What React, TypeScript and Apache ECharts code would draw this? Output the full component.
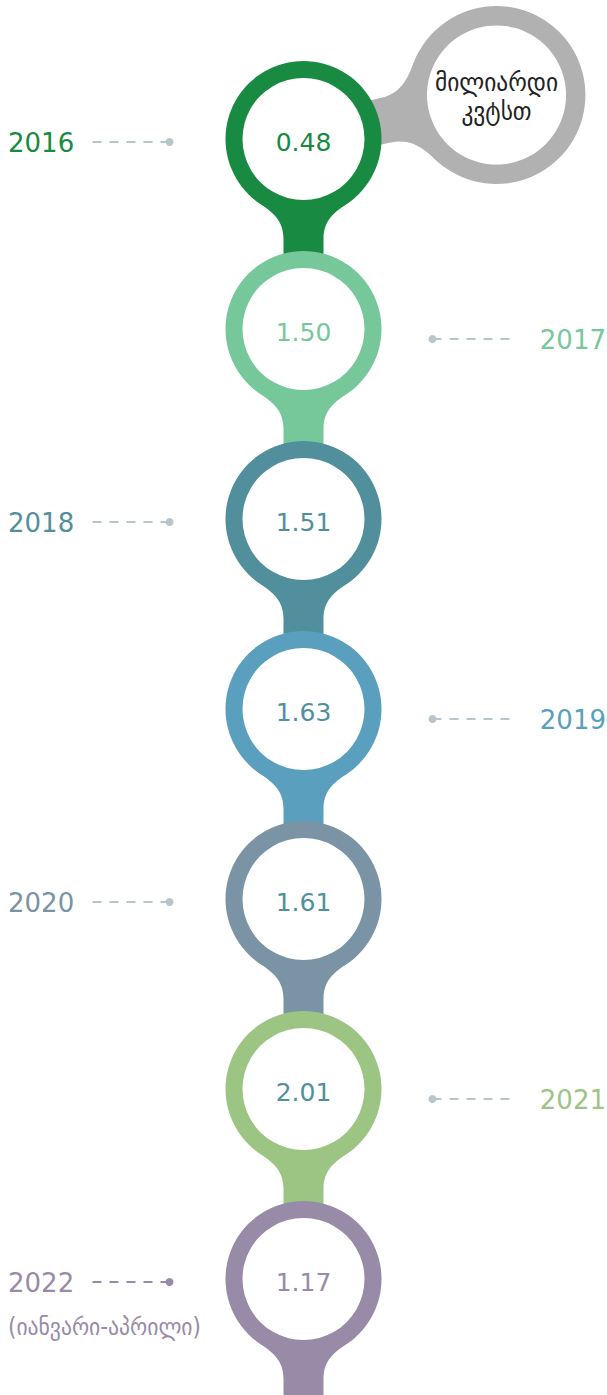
import React, { useEffect, useRef } from "react";
import * as echarts from "echarts";

const years = ["2016", "2017", "2018", "2019", "2020", "2021", "2022"];
const values = [0.48, 1.5, 1.51, 1.63, 1.61, 2.01, 1.17];
const ringColors = ["#188a41", "#76c89a", "#528f9c", "#5a9fbd", "#7a93a5", "#9cc584", "#978ba8"];
const valueColors = ["#188a41", "#76c89a", "#528f9c", "#4f8f9e", "#4f8f9e", "#4f8f9e", "#978ba8"];
const unitLines = ["მილიარდი", "კვტსთ"];
const periodNote = "(იანვარი-აპრილი)";

const FONT = "DejaVu Sans";
const GEO_FONT = "'DejaVu Sans Condensed', 'DejaVu Sans'";

function neckPath(cx: number, cy: number, s: number, ang: number, len: number): string {
  const c = Math.cos(ang);
  const sn = Math.sin(ang);
  const p = (x: number, y: number) => {
    const X = x * s;
    const Y = y * s;
    return (cx + X * c - Y * sn).toFixed(2) + " " + (cy + X * sn + Y * c).toFixed(2);
  };
  return `M ${p(-52, 58)} C ${p(-38, 70)} ${p(-20, 76)} ${p(-20, 100)} L ${p(-20, len)} L ${p(20, len)} L ${p(20, 100)} C ${p(20, 76)} ${p(38, 70)} ${p(52, 58)} Z`;
}

export default function App() {
  const ref = useRef<HTMLDivElement>(null);
  useEffect(() => {
    if (!ref.current) return;
    const chart = echarts.init(ref.current, null, { renderer: "svg" });
    const R = 78;
    const r = 61;

    const renderItem = (params: any, api: any) => {
      const i = params.dataIndex;
      const pt = api.coord([api.value(0), api.value(1)]);
      const cx = pt[0];
      const cy = pt[1];
      const color = ringColors[i];
      const children: any[] = [];

      if (i === 0) {
        // unit bubble
        const gx = cx + 193;
        const gy = cy - 44;
        const s = 1.14;
        const ang = Math.atan2(-(cx - gx), cy - gy);
        children.push({
          type: "path",
          shape: { pathData: neckPath(gx, gy, s, ang, 115) },
          style: { fill: "#b0b1b0" },
        });
        children.push({ type: "circle", shape: { cx: gx, cy: gy, r: R * s }, style: { fill: "#b0b1b0" } });
        children.push({ type: "circle", shape: { cx: gx, cy: gy, r: r * s }, style: { fill: "#ffffff" } });
        unitLines.forEach((t, k) => {
          children.push({
            type: "text",
            x: gx,
            y: gy - 13 + k * 29,
            style: { text: t, fill: "#222222", fontSize: 26, fontFamily: GEO_FONT, align: "center", verticalAlign: "middle" },
          });
        });
      }

      children.push({
        type: "path",
        shape: { pathData: neckPath(cx, cy, 1, 0, 125) },
        style: { fill: color },
      });
      children.push({ type: "circle", shape: { cx, cy, r: R }, style: { fill: color } });
      children.push({ type: "circle", shape: { cx, cy, r: r }, style: { fill: "#ffffff" } });
      children.push({
        type: "text",
        x: cx,
        y: cy + 3,
        style: {
          text: Number(api.value(2)).toFixed(2),
          fill: valueColors[i],
          fontSize: 25,
          fontFamily: FONT,
          align: "center",
          verticalAlign: "middle",
        },
      });

      const left = i % 2 === 0;
      const ly = cy + (left ? 4 : 11);
      const isLast = i === years.length - 1;
      const dashColor = isLast ? color : "#b8c6cc";
      const dotX = left ? cx - 134 : cx + 129;
      const endX = left ? cx - 211 : cx + 208;
      children.push({
        type: "line",
        shape: { x1: dotX, y1: ly - 1, x2: endX, y2: ly - 1 },
        style: { stroke: dashColor, lineWidth: 2, lineDash: [9, 8] },
      });
      children.push({ type: "circle", shape: { cx: dotX, cy: ly - 1, r: 4 }, style: { fill: dashColor } });
      children.push({
        type: "text",
        x: left ? 8 : 606,
        y: ly,
        style: {
          text: years[i],
          fill: color,
          fontSize: 26,
          fontFamily: FONT,
          align: left ? "left" : "right",
          verticalAlign: "middle",
        },
      });
      if (isLast) {
        children.push({
          type: "text",
          x: 8,
          y: ly + 44,
          style: { text: periodNote, fill: color, fontSize: 24, fontFamily: GEO_FONT, align: "left", verticalAlign: "middle" },
        });
      }
      return { type: "group", children };
    };

    chart.setOption({
      animation: false,
      grid: { left: 0, right: 0, top: 44, bottom: 21 },
      xAxis: { type: "value", min: 0, max: 1, show: false },
      yAxis: { type: "category", data: years, inverse: true, show: false },
      series: [
        {
          type: "custom",
          clip: false,
          renderItem,
          encode: { x: 0, y: 1 },
          data: years.map((y, i) => [0.5, i, values[i]]),
        },
      ],
    });
    return () => chart.dispose();
  }, []);
  return (
    <div
      ref={ref}
      style={{ position: "fixed", left: 0, top: 0, width: 607, height: 1395, background: "#ffffff" }}
    />
  );
}
